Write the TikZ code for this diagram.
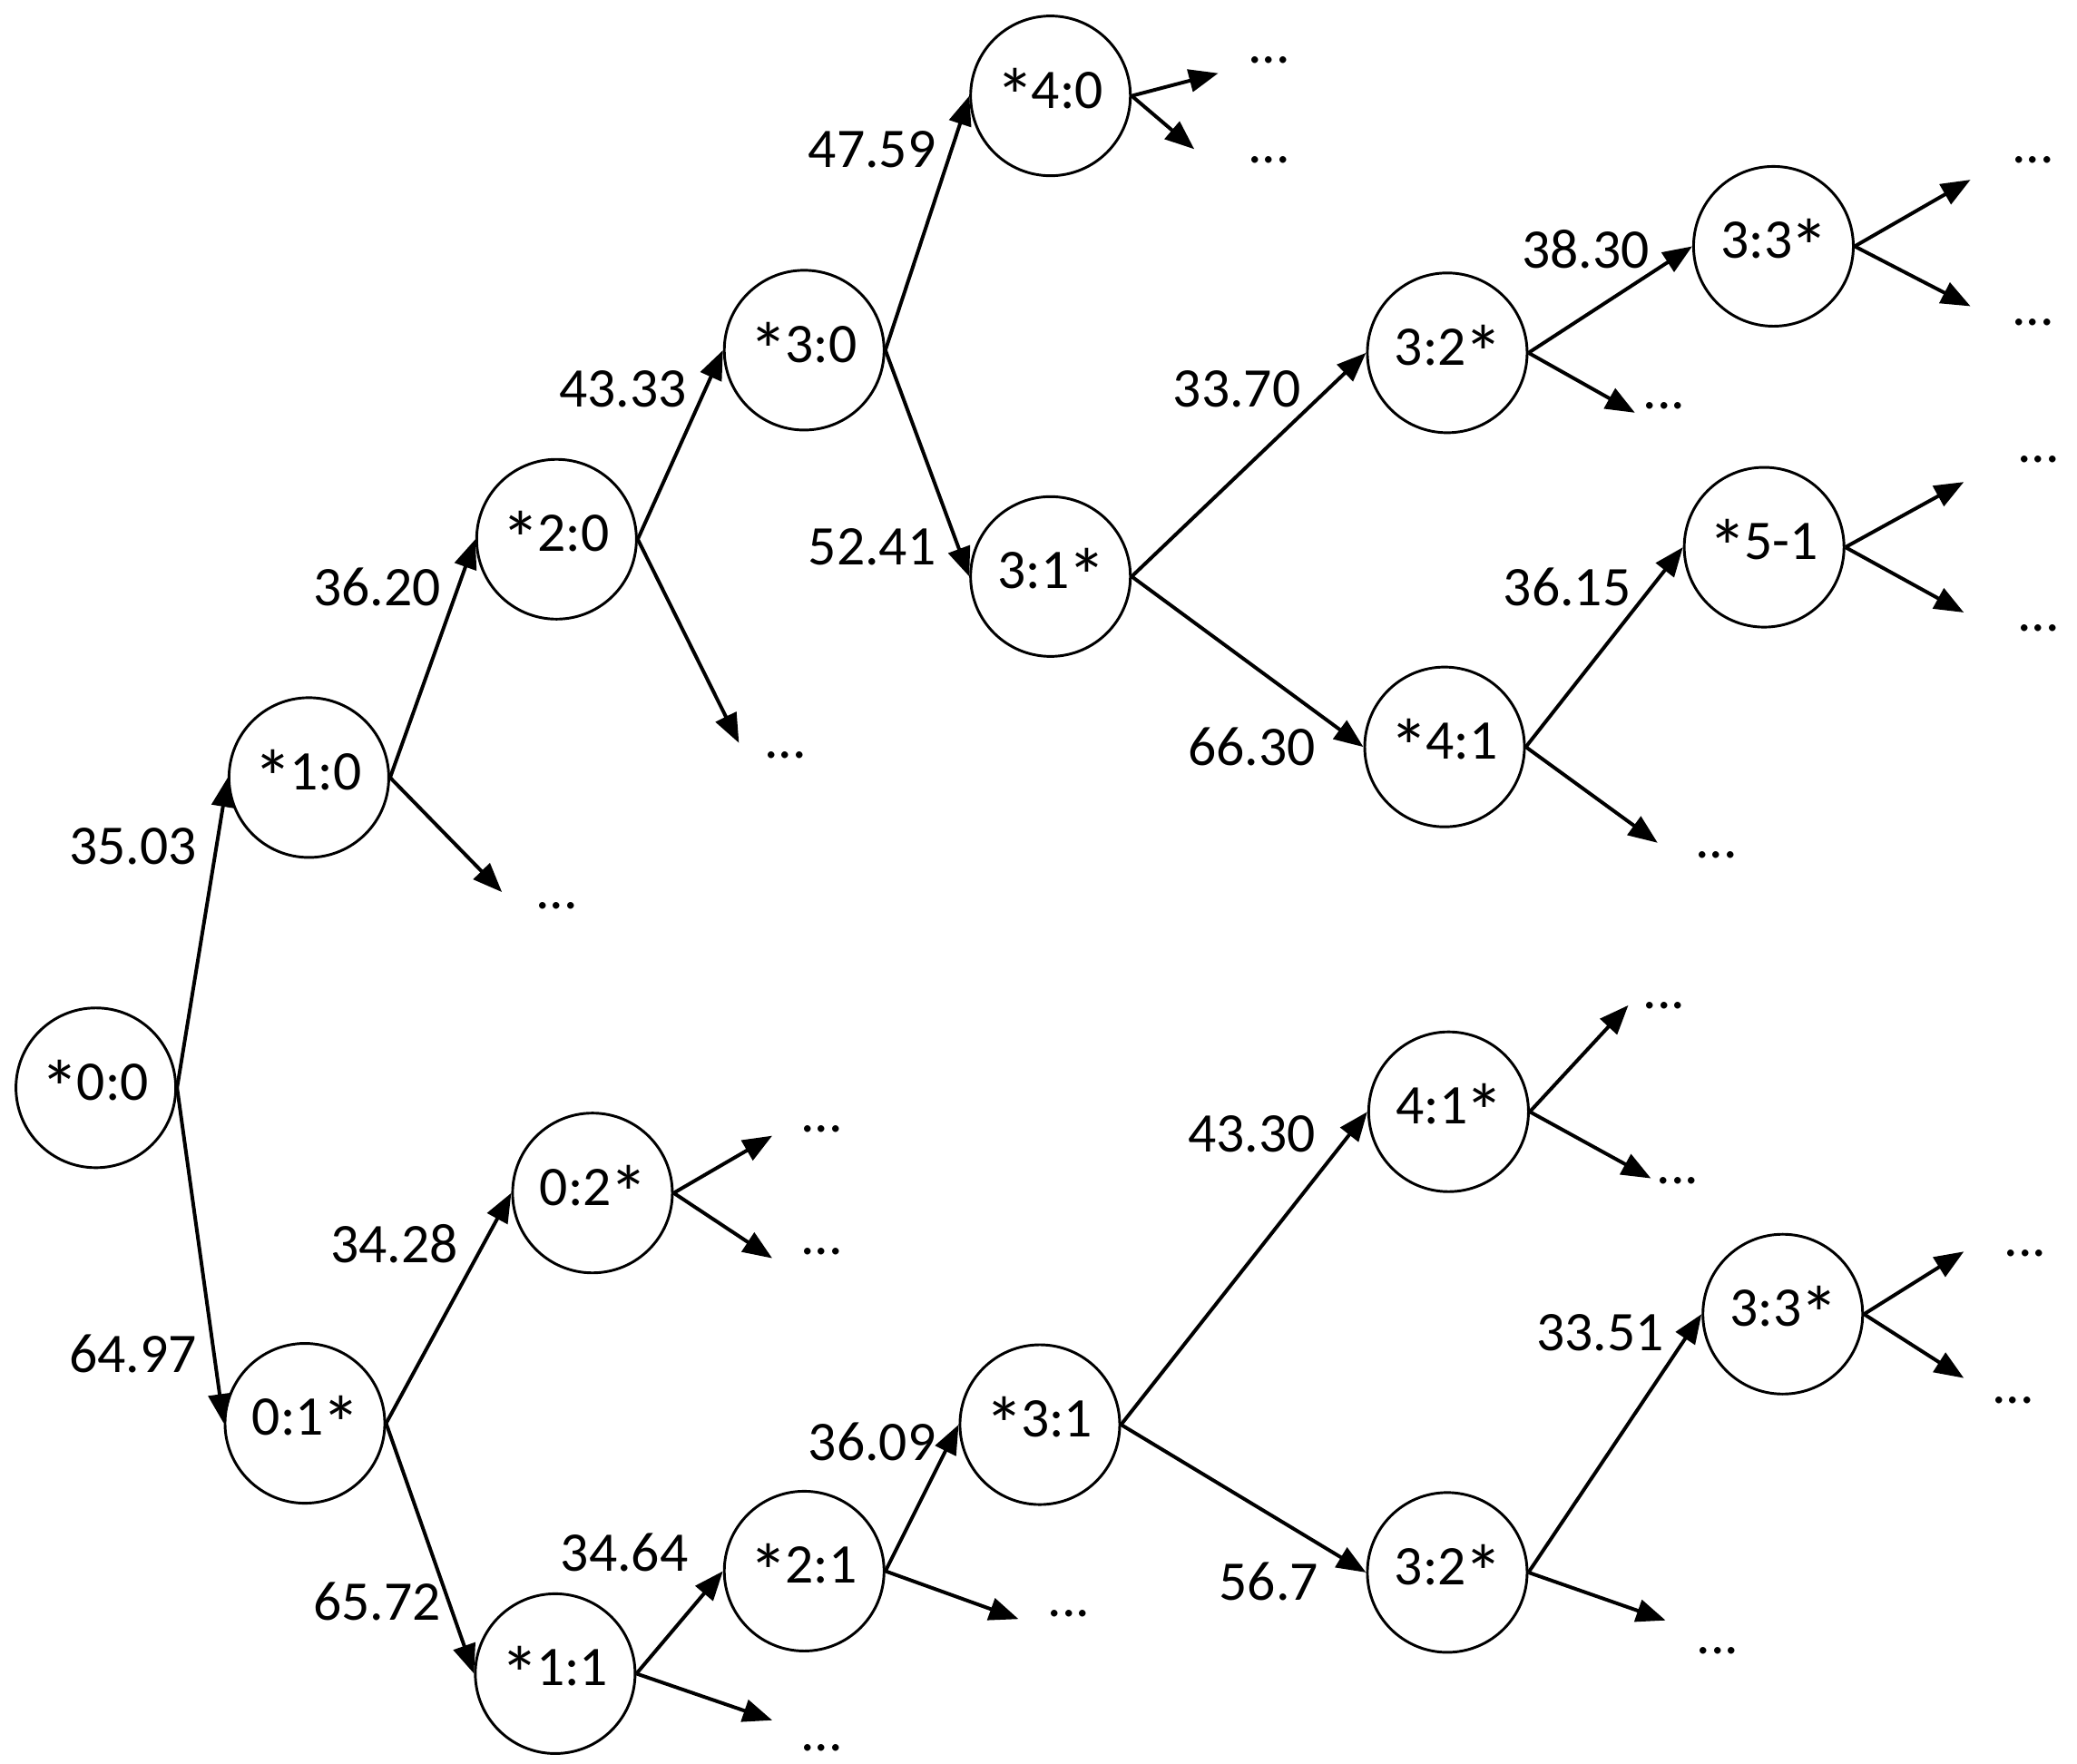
\documentclass[tikz,border=0pt]{standalone}
\usepackage{fontspec}
\setmainfont{Carlito}
\usetikzlibrary{arrows.meta}
\newcommand{\stR}{\kern-0.04em\raisebox{-0.28em}{\scalebox{1.4}{*}}\kern-0.05em}
\begin{document}
\begin{tikzpicture}[x=1pt,y=-1pt,
  st/.style={circle,draw,line width=2pt,minimum size=120pt,inner sep=0pt,font=\fontsize{42}{50}\selectfont},
  lbl/.style={font=\fontsize{42}{50}\selectfont,inner sep=0pt},
  dts/.style={font=\fontsize{42}{50}\selectfont,inner sep=0pt},
  arr/.style={line width=2.7pt,-{Triangle[length=22pt,width=17pt]}}]
\useasboundingbox (0,0) rectangle (1560,1324.2);
% states
\node[st] (A) at (72,817) {\stR0:0};
\node[st] (B) at (232,584) {\stR1:0};
\node[st] (C) at (418,405) {\stR2:0};
\node[st] (D) at (604,263) {\stR3:0};
\node[st] (E) at (789,72) {\stR4:0};
\node[st] (F) at (789,433) {3:1\stR};
\node[st] (G) at (1087,265) {3:2\stR};
\node[st] (H) at (1332,185) {3:3\stR};
\node[st] (I) at (1085,561) {\stR4:1};
\node[st] (J) at (1325,411) {\stR5-1};
\node[st] (K) at (229,1069) {0:1\stR};
\node[st] (L) at (445,896) {0:2\stR};
\node[st] (M) at (417,1257) {\stR1:1};
\node[st] (N) at (604,1180) {\stR2:1};
\node[st] (O) at (781,1070) {\stR3:1};
\node[st] (P) at (1088,835) {4:1\stR};
\node[st] (Q) at (1087,1181) {3:2\stR};
\node[st] (R) at (1339,987) {3:3\stR};
% edges with labels
\draw[arr] (A.east) -- (B.west);
\draw[arr] (A.east) -- (K.west);
\draw[arr] (B.east) -- (C.west);
\draw[arr] (C.east) -- (D.west);
\draw[arr] (D.east) -- (E.west);
\draw[arr] (D.east) -- (F.west);
\draw[arr] (F.east) -- (G.west);
\draw[arr] (F.east) -- (I.west);
\draw[arr] (G.east) -- (H.west);
\draw[arr] (I.east) -- (J.west);
\draw[arr] (K.east) -- (L.west);
\draw[arr] (K.east) -- (M.west);
\draw[arr] (M.east) -- (N.west);
\draw[arr] (N.east) -- (O.west);
\draw[arr] (O.east) -- (P.west);
\draw[arr] (O.east) -- (Q.west);
\draw[arr] (Q.east) -- (R.west);
\node[lbl] (l1) at (100,636) {35.03};
\node[lbl] (l2) at (100,1017) {64.97};
\node[lbl] (l3) at (283,441) {36.20};
\node[lbl] (l4) at (468,292) {43.33};
\node[lbl] (l5) at (655,112) {47.59};
\node[lbl] (l6) at (655,411) {52.41};
\node[lbl] (l7) at (929,292) {33.70};
\node[lbl] (l8) at (940,561) {66.30};
\node[lbl] (l9) at (1191,187) {38.30};
\node[lbl] (l10) at (1177,441) {36.15};
\node[lbl] (l11) at (296,934) {34.28};
\node[lbl] (l12) at (283,1203) {65.72};
\node[lbl] (l13) at (469,1166) {34.64};
\node[lbl] (l14) at (655,1083) {36.09};
\node[lbl] (l15) at (940,852) {43.30};
\node[lbl] (l16) at (953,1188) {56.7};
\node[lbl] (l17) at (1202,1001) {33.51};
% dangling ends
\coordinate (b1) at (377,670);
\coordinate (c1) at (555,558);
\coordinate (e1) at (915,55);
\coordinate (e2) at (897,112);
\coordinate (g1) at (1228,310);
\coordinate (h1) at (1480,135);
\coordinate (h2) at (1480,230);
\coordinate (i1) at (1245,633);
\coordinate (j1) at (1475,362);
\coordinate (j2) at (1475,460);
\coordinate (lA) at (580,853);
\coordinate (lB) at (580,945);
\coordinate (m1) at (580,1292);
\coordinate (n1) at (765,1216);
\coordinate (p1) at (1223,755);
\coordinate (p2) at (1240,885);
\coordinate (q1) at (1251,1217);
\coordinate (r1) at (1475,940);
\coordinate (r2) at (1475,1035);
\draw[arr] (B.east) -- (b1);
\draw[arr] (C.east) -- (c1);
\draw[arr] (E.east) -- (e1);
\draw[arr] (E.east) -- (e2);
\draw[arr] (G.east) -- (g1);
\draw[arr] (H.east) -- (h1);
\draw[arr] (H.east) -- (h2);
\draw[arr] (I.east) -- (i1);
\draw[arr] (J.east) -- (j1);
\draw[arr] (J.east) -- (j2);
\draw[arr] (L.east) -- (lA);
\draw[arr] (L.east) -- (lB);
\draw[arr] (M.east) -- (m1);
\draw[arr] (N.east) -- (n1);
\draw[arr] (P.east) -- (p1);
\draw[arr] (P.east) -- (p2);
\draw[arr] (Q.east) -- (q1);
\draw[arr] (R.east) -- (r1);
\draw[arr] (R.east) -- (r2);
% dots
\node[dts] (d1) at (418,680) {...};
\node[dts] (d2) at (590,567) {...};
\node[dts] (d3) at (953,45) {...};
\node[dts] (d4) at (953,120) {...};
\node[dts] (d5) at (1250,305) {...};
\node[dts] (d6) at (1527,120) {...};
\node[dts] (d7) at (1527,242) {...};
\node[dts] (d8) at (1289,642) {...};
\node[dts] (d9) at (1531,345) {...};
\node[dts] (d10) at (1531,472) {...};
\node[dts] (d11) at (617,848) {...};
\node[dts] (d12) at (617,940) {...};
\node[dts] (d13) at (617,1313) {...};
\node[dts] (d14) at (803,1212) {...};
\node[dts] (d15) at (1250,755) {...};
\node[dts] (d16) at (1260,887) {...};
\node[dts] (d17) at (1290,1240) {...};
\node[dts] (d18) at (1521,941) {...};
\node[dts] (d19) at (1512,1052) {...};
\end{tikzpicture}
\end{document}
